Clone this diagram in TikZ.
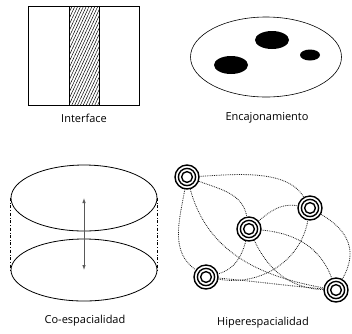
\documentclass[tikz,border=0pt]{standalone}
\usepackage{fontspec}
\setmainfont{Open Sans}
\usetikzlibrary{arrows.meta, shapes.geometric, patterns.meta}

\begin{document}
\begin{tikzpicture}[
    x=1pt, y=1pt,
    every node/.style={inner sep=0pt},
    caption/.style={font=\fontsize{11}{13}\selectfont},
    blob/.style={ellipse, fill=black},
    ring/.style={ellipse, draw, line width=0.8pt},
    target/.style={circle, draw, line width=1.4pt, minimum size=24pt, fill=white,
      path picture={\draw[line width=1.4pt] (path picture bounding box.center) circle (8.6pt) circle (5.4pt);
        \fill (path picture bounding box.center) circle (3.1pt);}},
    link/.style={densely dotted, line width=0.8pt, black!90}
  ]
  \useasboundingbox (0,0) rectangle (352,-333);

  \node (iface) [draw, line width=0.8pt, minimum width=111pt, minimum height=99pt] at (83.5,-55.5) {};
  \node (strip) [draw, line width=0.6pt, minimum width=30pt, minimum height=99pt,
    pattern={Lines[angle=65, distance=2.6pt, line width=0.5pt]}] at (84,-55.5) {};
  \node (iface label) [caption] at (84,-118) {Interface};

  \node (box) [ellipse, draw, line width=0.6pt, minimum width=151pt, minimum height=80pt] at (266,-57) {};
  \node (blob1) [blob, minimum width=34pt, minimum height=18pt] at (231,-65) {};
  \node (blob2) [blob, minimum width=34pt, minimum height=18pt] at (272,-40) {};
  \node (blob3) [blob, minimum width=20pt, minimum height=11pt] at (310,-55) {};
  \node (box label) [caption] at (267,-118) {Encajonamiento};

  \node (top) [ring, minimum width=146pt, minimum height=66pt] at (84,-198) {};
  \node (bot) [ring, minimum width=146pt, minimum height=62pt] at (84,-270) {};
  \draw[dash dot, line width=0.5pt] (top.west) -- (bot.west);
  \draw[dash dot, line width=0.5pt] (top.east) -- (bot.east);
  \draw[{Latex[length=5pt,width=3.5pt]}-{Latex[length=5pt,width=3.5pt]}, black!65, line width=0.8pt]
    (top.center) -- (bot.center);
  \node (co label) [caption] at (85,-321) {Co-espacialidad};

  \node (a) [target] at (187,-177) {};
  \node (b) [target] at (249,-229) {};
  \node (c) [target] at (310,-208) {};
  \node (d) [target] at (206,-277) {};
  \node (e) [target] at (336,-290) {};
  \draw[link] (a) to[out=3, in=120, looseness=0.8] (c);
  \draw[link] (a) to[out=-20, in=100] (b);
  \draw[link] (a) to[out=-100, in=145] (d);
  \draw[link] (a) to[out=-75, in=170] (e);
  \draw[link] (b) to[out=40, in=170] (c);
  \draw[link] (b) to[out=-105, in=15] (d);
  \draw[link] (b) to[out=-5, in=110] (e);
  \draw[link] (b) to[out=-65, in=178] (e);
  \draw[link] (d) to[out=-10, in=-100] (c);
  \draw[link] (d) to[out=-5, in=175] (e);
  \draw[link] (c) to[out=-30, in=60, looseness=1.2] (e);
  \node (hyper label) [caption] at (263,-323) {Hiperespacialidad};
\end{tikzpicture}
\end{document}
